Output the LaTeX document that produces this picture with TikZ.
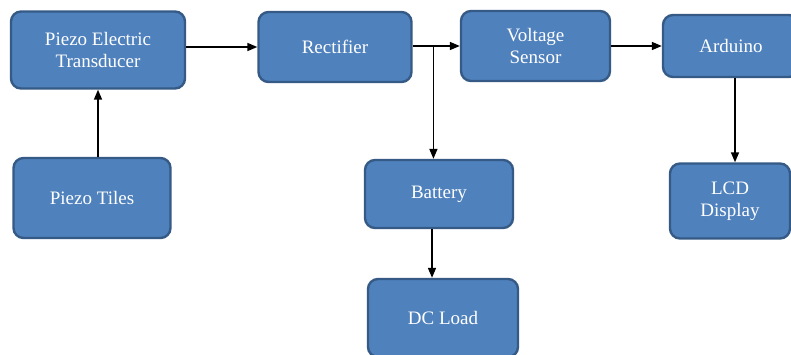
\documentclass[tikz,border=0pt]{standalone}
\usepackage{fontspec}
\setmainfont{Liberation Serif}
\usetikzlibrary{arrows.meta,positioning,calc}
\definecolor{blockcol}{RGB}{79,129,189}
\definecolor{edgecol}{RGB}{54,90,134}

\begin{document}
\begin{tikzpicture}[
  x=1pt, y=-1pt,
  block/.style={draw=edgecol, line width=2.4pt, fill=blockcol, rounded corners=10pt,
                text=white, align=center, inner sep=0pt,
                font=\fontsize{19}{22}\selectfont},
  link/.style={->, line width=1.6pt},
  >={Triangle[length=10pt,width=8pt]}
]
  \useasboundingbox (0,0) rectangle (791,354);

  % Top row
  \node[block, minimum width=174pt, minimum height=77pt] (pet) at (98,50) {Piezo Electric\\Transducer};
  \node[block, minimum width=153pt, minimum height=70pt] (rect) at (335,47) {Rectifier};
  \node[block, minimum width=149pt, minimum height=70pt] (volt) at (535.5,46) {Voltage\\Sensor};
  \node[block, minimum width=136pt, minimum height=62pt] (ard) at (731,46) {Arduino};

  % Lower blocks
  \node[block, minimum width=157pt, minimum height=80pt] (tiles) at (92,198) {Piezo Tiles};
  \node[block, minimum width=148pt, minimum height=68pt] (batt) at (439,194) {Battery};
  \node[block, minimum width=120pt, minimum height=75pt] (lcd) at (730,201) {LCD\\Display};
  \node[block, minimum width=150pt, minimum height=78pt] (load) at (443,318) {DC Load};

  % Connections
  \draw[link] (tiles.north -| pet.south) -- (pet.south);
  \draw[link] (pet.east |- rect.west) -- (rect.west);
  \draw[link] (rect.east |- volt.west) -- (volt.west);
  \coordinate (split) at ($(rect.east |- volt.west)!0.44!(volt.west)$);
  \draw[link] (split) -- (split |- batt.north);
  \draw[link] (volt.east |- ard.west) -- (ard.west);
  \draw[link] ([xshift=4pt]ard.south) -- ([xshift=4pt]ard.south |- lcd.north);
  \draw[link] ([xshift=-7pt]batt.south) -- ([xshift=-7pt]batt.south |- load.north);
\end{tikzpicture}
\end{document}
